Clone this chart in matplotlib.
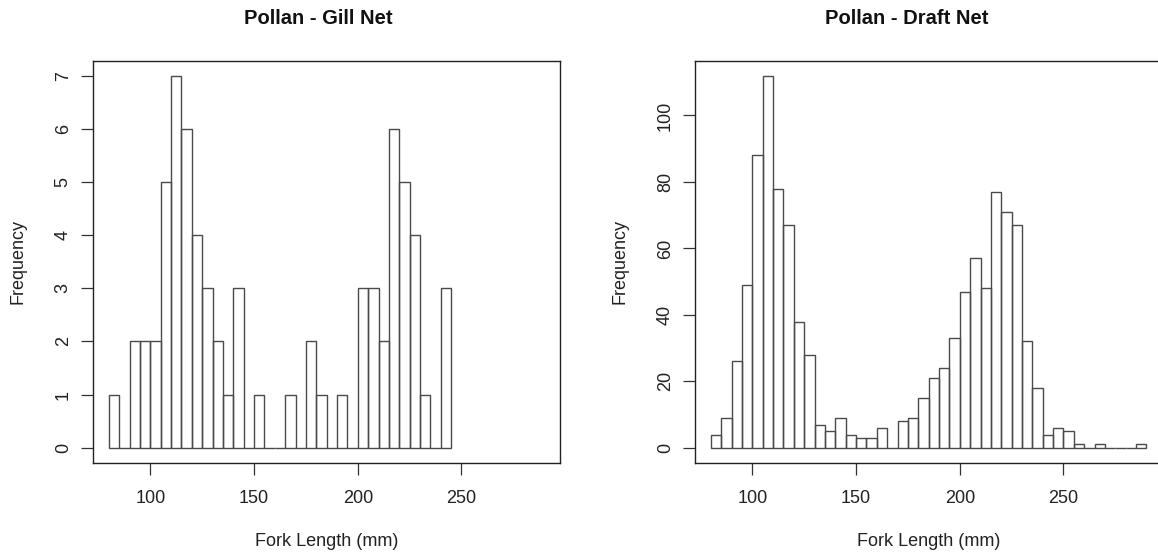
import matplotlib
matplotlib.use('Agg')
import matplotlib.pyplot as plt
import numpy as np

plt.rcParams['font.family'] = ['Liberation Sans', 'DejaVu Sans']

# histogram data, 5 mm bins
gill_start = 80
gill_counts = [1, 0, 2, 2, 2, 5, 7, 6, 4, 3, 2, 1, 3, 0, 1, 0, 0, 1, 0, 2, 1,
               0, 1, 0, 3, 3, 2, 6, 5, 4, 1, 0, 3]
draft_start = 80
draft_counts = [4, 9, 26, 49, 88, 112, 78, 67, 38, 28, 7, 5, 9, 4, 3, 3, 6, 0,
                8, 9, 15, 21, 24, 33, 47, 57, 48, 77, 71, 67, 32, 18, 4, 6, 5,
                1, 0, 1, 0, 0, 0, 1]
bin_width = 5
titles = ['Pollan - Gill Net', 'Pollan - Draft Net']
xticks = [100, 150, 200, 250]
gill_yticks = [0, 1, 2, 3, 4, 5, 6, 7]
draft_yticks = [0, 20, 40, 60, 80, 100]

W, H = 1158, 557
fig = plt.figure(figsize=(W / 100, H / 100), dpi=100)

# left edge of plot box, title centre (pixels)
panels = [
    (93.3, 318, gill_start, gill_counts, titles[0], gill_yticks),
    (695.3, 907, draft_start, draft_counts, titles[1], draft_yticks),
]

for left, tx, start, counts, title, yt in panels:
    ax = fig.add_axes([left / W, (H - 462.7) / H, 466.7 / W, 402 / H])
    counts = np.array(counts)
    edges = start + bin_width * np.arange(len(counts))
    ax.bar(edges, counts, width=bin_width, align='edge', fill=False,
           edgecolor='#4a4a4a', linewidth=1.0)
    top = counts.max()
    ax.set_ylim(-0.04 * top, 1.04 * top)
    ax.set_xlim(72.5, 297.5)
    ax.set_xticks(xticks)
    ax.set_yticks(yt)
    ax.set_yticklabels([str(v) for v in yt], rotation=90, va='center')
    ax.tick_params(direction='out', length=8.5, width=0.9, labelsize=13,
                   color='#333333', labelcolor='#222222')
    ax.tick_params(axis='x', pad=11.5)
    ax.tick_params(axis='y', pad=7)
    for s in ax.spines.values():
        s.set_linewidth(1.0)
        s.set_color('#222222')
    ax.set_xlabel('Fork Length (mm)', fontsize=13, labelpad=18.5, color='#222222')
    ax.set_ylabel('Frequency', fontsize=13, labelpad=20, color='#222222')
    fig.text(tx / W, (H - 18) / H, title, ha='center', va='center',
             fontsize=14.5, fontweight='bold', color='#111111')

fig.savefig('out.png', dpi=100)
